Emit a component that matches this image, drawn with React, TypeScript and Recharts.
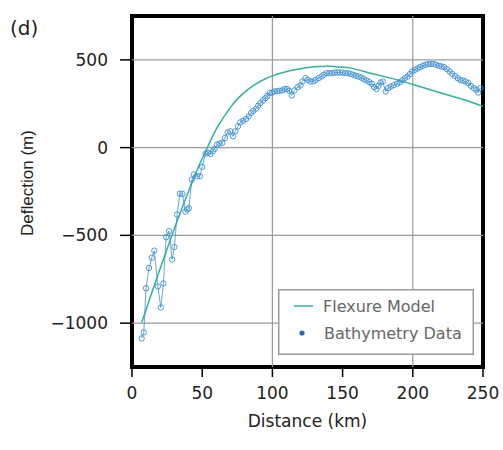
import React from "react";
import { ComposedChart, Line, XAxis, YAxis, ReferenceLine, ReferenceArea, Legend } from "recharts";

// bathymetry profile (km, m)
const bathyX = [
  6.9, 8.4, 10.0, 12.1, 14.1, 15.9, 18.4, 20.5, 22.4, 24.3,
  26.4, 28.6, 30.2, 32.1, 34.1, 35.9, 38.1, 39.3, 40.5, 42.6,
  44.1, 46.4, 48.4, 50.0, 52.4, 54.1, 55.9, 57.6, 58.8, 60.5,
  62.4, 64.3, 66.2, 68.1, 70.0, 71.9, 73.6, 75.5, 77.1, 79.1,
  81.2, 83.1, 84.8, 86.4, 88.4, 89.8, 91.4, 93.4, 95.0, 96.4,
  98.1, 99.8, 101.4, 103.4, 105.2, 107.1, 108.8, 110.5, 111.9, 113.8,
  115.7, 117.9, 120.0, 121.4, 123.6, 125.2, 127.1, 129.1, 130.9, 132.9,
  135.0, 136.6, 138.6, 140.5, 142.4, 144.3, 146.2, 148.1, 150.0, 151.9,
  153.8, 155.7, 157.6, 159.5, 161.4, 163.4, 165.2, 167.1, 169.1, 170.9,
  172.4, 174.1, 175.5, 177.1, 178.6, 180.7, 182.4, 184.3, 186.4, 188.8,
  190.7, 192.5, 194.3, 196.2, 197.9, 199.5, 201.4, 203.4, 205.2, 207.1,
  209.1, 210.9, 212.9, 214.8, 216.6, 218.6, 220.5, 222.4, 224.3, 226.2,
  228.1, 230.0, 231.9, 233.8, 235.7, 237.6, 239.5, 241.4, 243.4, 245.2,
  246.6, 248.1,
];
const bathyY = [
  -1087, -1053, -801, -686, -627, -587, -791, -911, -774, -510,
  -476, -638, -566, -381, -263, -263, -365, -352, -345, -182,
  -153, -163, -163, -110, -34, -30, -36, -21, -7, 17,
  23, 27, 55, 87, 93, 64, 93, 121, 144, 153,
  163, 178, 197, 209, 222, 239, 254, 269, 282, 295,
  311, 314, 320, 322, 324, 326, 334, 334, 324, 297,
  326, 345, 354, 377, 396, 386, 377, 377, 386, 396,
  405, 415, 424, 424, 424, 428, 428, 428, 428, 424,
  424, 420, 415, 409, 405, 398, 390, 382, 373, 364,
  345, 334, 352, 371, 377, 320, 339, 348, 356, 364,
  372, 384, 396, 405, 419, 434, 443, 451, 459, 466,
  472, 476, 477, 477, 472, 466, 462, 459, 447, 434,
  420, 409, 396, 386, 382, 377, 368, 352, 339, 330,
  314, 339,
];

// flexure model
const flexX = [6.9, 15, 22, 28.8, 36, 42.6, 48, 53.8, 60.5, 70, 76, 82, 88, 94, 100.5, 107, 113, 120, 127, 134, 141, 148, 156, 170, 184.3, 200.9, 220, 236.6, 249.8];
const flexY = [-996, -806, -645, -492, -337, -202, -97, 2, 112, 228, 285, 328, 362, 388, 410, 427, 440, 450, 458, 462, 463, 460, 453, 424, 396, 358, 311, 273, 235];

const xTicks = [0, 50, 100, 150, 200, 250];
const yTicks = [-1000, -500, 0, 500];
const xGrid = [100, 200];

const bathy = bathyX.map((x, i) => ({ x, y: bathyY[i] }));
const flex = flexX.map((x, i) => ({ x, y: flexY[i] }));

const FONT = "'DejaVu Sans', sans-serif";
const TEAL = "#2fb39c";
const BLUE = "#3d8fd1";
const GRID = "#9a9a9a";

const fmtY = (v: number) => (v < 0 ? `\u2212${Math.abs(v)}` : `${v}`);

const LegendBox = () => (
  <svg width={196} height={66} style={{ display: "block" }}>
    <rect x={0.75} y={0.75} width={194.5} height={64.5} fill="#fff" stroke="#9a9a9a" strokeWidth={1.5} />
    <line x1={16} x2={35} y1={17} y2={17} stroke={TEAL} strokeWidth={1.5} />
    <text x={45} y={17} dominantBaseline="central" fontFamily={FONT} fontSize={16} fill="#666">Flexure Model</text>
    <circle cx={24} cy={44} r={2.6} fill="#1d6cb5" />
    <text x={46} y={44} dominantBaseline="central" fontFamily={FONT} fontSize={16} fill="#666">Bathymetry Data</text>
  </svg>
);

export default function App() {
  return (
    <div style={{ position: "absolute", left: 0, top: 0, width: 503, height: 450, background: "#fff" }}>
      <ComposedChart width={503} height={450} margin={{ top: 0, right: 0, bottom: 0, left: 0 }}>
        <XAxis
          type="number" dataKey="x" domain={[0, 250]} ticks={xTicks} height={83}
          axisLine={false} tickSize={10} tickMargin={10}
          tickLine={{ stroke: "#000", strokeWidth: 1.5 }}
          tick={{ fontSize: 17, fontFamily: FONT, fill: "#222" }}
          label={{
            content: () => (
              <text x={307.5} y={421} textAnchor="middle" dominantBaseline="central" fontFamily={FONT} fontSize={17} fill="#222">
                Distance (km)
              </text>
            ),
          }}
        />
        <XAxis
          xAxisId="top" orientation="top" type="number" dataKey="x" domain={[0, 250]} ticks={xTicks} height={16}
          axisLine={false} tickSize={10} tickFormatter={() => ""}
          tickLine={{ stroke: "#000", strokeWidth: 1.5 }}
        />
        <YAxis
          type="number" domain={[-1250, 750]} ticks={yTicks} width={132}
          axisLine={false} tickSize={12} tickMargin={12} tickFormatter={fmtY}
          tickLine={{ stroke: "#000", strokeWidth: 1.5 }}
          tick={{ fontSize: 17, fontFamily: FONT, fill: "#222" }}
          label={{
            content: () => (
              <g>
                <text x={27} y={183} transform="rotate(-90, 27, 183)" textAnchor="middle" dominantBaseline="central"
                  fontFamily="'Liberation Sans', Arial, sans-serif" fontSize={17} fill="#222">
                  Deflection (m)
                </text>
                <text x={10} y={35} fontFamily={FONT} fontSize={20} fill="#222">(d)</text>
              </g>
            ),
          }}
        />
        <YAxis
          yAxisId="right" orientation="right" type="number" domain={[-1250, 750]} ticks={yTicks} width={20}
          axisLine={false} tickSize={10} tickFormatter={() => ""}
          tickLine={{ stroke: "#000", strokeWidth: 1.5 }}
        />
        {xGrid.map((v) => (
          <ReferenceLine key={`gx${v}`} x={v} stroke={GRID} strokeWidth={1.2} />
        ))}
        {yTicks.map((v) => (
          <ReferenceLine key={`gy${v}`} y={v} stroke={GRID} strokeWidth={1.2} />
        ))}
        <Line
          data={flex} dataKey="y" type="natural" stroke={TEAL} strokeWidth={1.5}
          dot={false} isAnimationActive={false} name="Flexure Model"
        />
        <Line
          data={bathy} dataKey="y" type="linear" stroke={BLUE} strokeWidth={0.8}
          dot={{ r: 2.7, stroke: BLUE, strokeWidth: 0.9, fill: "none" }}
          activeDot={false} isAnimationActive={false} name="Bathymetry Data"
        />
        <ReferenceArea x1={0} x2={250} y1={-1250} y2={750} fill="none" stroke="#000" strokeWidth={4} />
        <Legend
          layout="vertical" align="center" verticalAlign="middle" width={196}
          wrapperStyle={{ left: 278, top: 289, width: 196, height: 66 }}
          content={() => <LegendBox />}
        />
      </ComposedChart>
    </div>
  );
}
